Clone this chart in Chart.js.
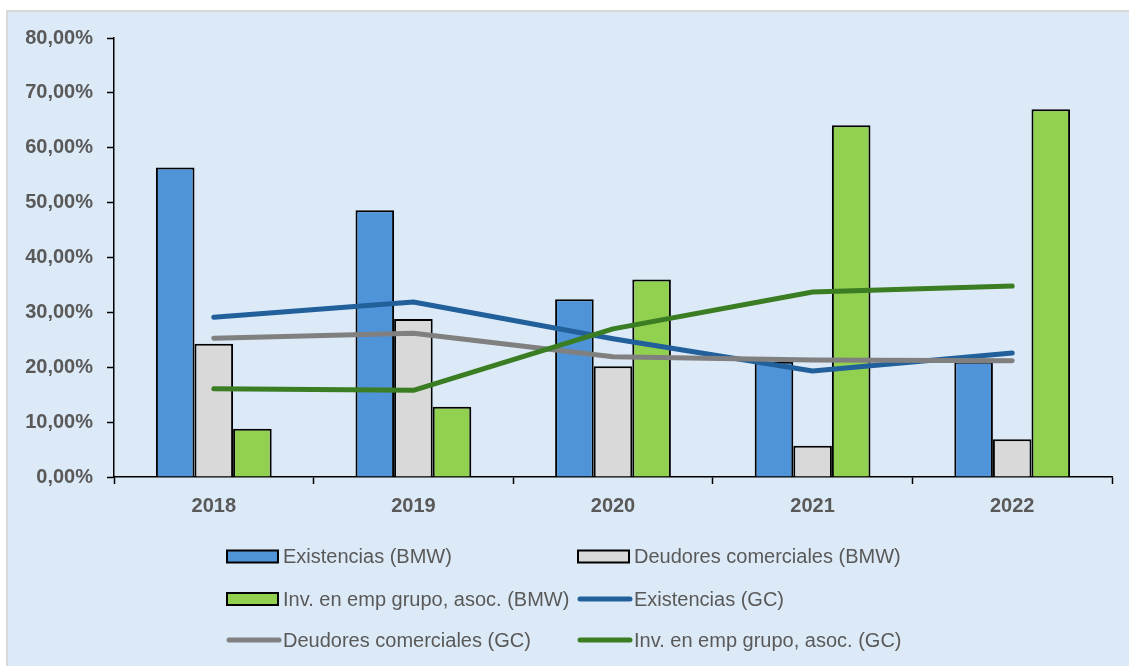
<!DOCTYPE html>
<html>
<head>
<meta charset="utf-8">
<script src="https://cdn.jsdelivr.net/npm/chart.js@4/dist/chart.umd.min.js"></script>
<style>
  html, body { margin: 0; padding: 0; background: #ffffff; }
  #wrap { position: absolute; left: 0; top: 0; width: 1129px; height: 666px; }
</style>
</head>
<body>
<div id="wrap"><canvas id="c" width="1129" height="666"></canvas></div>
<script>
// Years on the category axis
const years = ['2018', '2019', '2020', '2021', '2022'];

// BMW ratios (%), drawn as bars
const existenciasBMW = [56.4, 48.6, 32.4, 21.0, 21.0];
const deudoresBMW = [24.3, 28.8, 20.2, 5.7, 6.9];
const invGrupoBMW = [8.8, 12.8, 36.0, 64.1, 67.0];

// Sector reference ratios (%), drawn as lines
const existenciasGC = [29.1, 31.9, 25.2, 19.3, 22.6];
const deudoresGC = [25.3, 26.2, 21.9, 21.3, 21.2];
const invGrupoGC = [16.1, 15.8, 27.0, 33.7, 34.8];

// Value axis range and step
const yMin = 0;
const yMax = 80;
const yStep = 10;

const fmtPct = v => v.toFixed(2).replace('.', ',') + '%';

const textGray = '#595959';
const fontFamily = '"Liberation Sans", Arial, sans-serif';

// Panel background with the thin grey frame on its left and top edges
const panelPlugin = {
  id: 'panel',
  beforeDraw(chart) {
    const ctx = chart.ctx;
    ctx.save();
    ctx.fillStyle = '#ffffff';
    ctx.fillRect(0, 0, chart.width, chart.height);
    ctx.fillStyle = '#d9d9d9';
    ctx.fillRect(6, 10, chart.width - 6, chart.height - 10);
    ctx.fillStyle = '#dce9f6';
    ctx.fillRect(8, 12, chart.width - 8, chart.height - 12);
    ctx.restore();
  }
};

// Two-column legend beneath the plot
const gridLegendPlugin = {
  id: 'gridLegend',
  afterDraw(chart) {
    const ctx = chart.ctx;
    const colX = [227, 578];
    const rowY = [556.5, 599, 640];
    ctx.save();
    ctx.font = '20px ' + fontFamily;
    ctx.textBaseline = 'middle';
    ctx.textAlign = 'left';
    chart.data.datasets.forEach((ds, i) => {
      const x = colX[i % 2];
      const y = rowY[Math.floor(i / 2)];
      if (ds.type === 'line') {
        ctx.strokeStyle = ds.borderColor;
        ctx.lineWidth = 5;
        ctx.lineCap = 'round';
        ctx.beginPath();
        ctx.moveTo(x + 2, y);
        ctx.lineTo(x + 52, y);
        ctx.stroke();
      } else {
        ctx.fillStyle = ds.backgroundColor;
        ctx.fillRect(x, y - 6, 51, 12);
        ctx.strokeStyle = '#000000';
        ctx.lineWidth = 2;
        ctx.strokeRect(x, y - 6, 51, 12);
      }
      ctx.fillStyle = textGray;
      ctx.fillText(ds.label, x + 56, y + 1);
    });
    ctx.restore();
  }
};

const barStyle = { borderColor: '#000000', borderWidth: 2, order: 10 };
const lineStyle = { type: 'line', borderWidth: 5, pointRadius: 0, pointHoverRadius: 0,
  tension: 0, borderCapStyle: 'round', borderJoinStyle: 'round', fill: false };

new Chart(document.getElementById('c'), {
  type: 'bar',
  data: {
    labels: years,
    datasets: [
      Object.assign({ label: 'Existencias (BMW)', data: existenciasBMW, backgroundColor: '#4f94d9' }, barStyle),
      Object.assign({ label: 'Deudores comerciales (BMW)', data: deudoresBMW, backgroundColor: '#d9d9d9' }, barStyle),
      Object.assign({ label: 'Inv. en emp grupo, asoc. (BMW)', data: invGrupoBMW, backgroundColor: '#92d050' }, barStyle),
      Object.assign({ label: 'Existencias (GC)', data: existenciasGC, borderColor: '#22609c', backgroundColor: '#22609c', order: 3 }, lineStyle),
      Object.assign({ label: 'Deudores comerciales (GC)', data: deudoresGC, borderColor: '#808080', backgroundColor: '#808080', order: 2 }, lineStyle),
      Object.assign({ label: 'Inv. en emp grupo, asoc. (GC)', data: invGrupoGC, borderColor: '#3b7d23', backgroundColor: '#3b7d23', order: 1 }, lineStyle)
    ]
  },
  options: {
    responsive: false,
    animation: false,
    devicePixelRatio: 1,
    layout: { padding: { left: 0, top: 38, right: 17, bottom: 0 } },
    datasets: { bar: { categoryPercentage: 0.58, barPercentage: 1.0 } },
    plugins: { legend: { display: false }, tooltip: { enabled: false } },
    scales: {
      x: {
        grid: { display: true, drawOnChartArea: false, drawTicks: true, tickLength: 7,
                tickColor: '#000000', tickWidth: 1.5, offset: true },
        border: { display: true, color: '#000000', width: 1.5 },
        ticks: { color: textGray, font: { family: fontFamily, size: 20, weight: 'bold' }, padding: 10 },
        afterFit(scale) { scale.height = 666 - 477; }
      },
      y: {
        min: yMin, max: yMax,
        grid: { display: true, drawOnChartArea: false, drawTicks: true, tickLength: 7,
                tickColor: '#000000', tickWidth: 1.5 },
        border: { display: true, color: '#000000', width: 1.5 },
        ticks: { stepSize: yStep, color: textGray, font: { family: fontFamily, size: 20, weight: 'bold' },
                 padding: 14, callback: v => fmtPct(v) },
        afterFit(scale) { scale.width = 114; }
      }
    }
  },
  plugins: [panelPlugin, gridLegendPlugin]
});
</script>
</body>
</html>
